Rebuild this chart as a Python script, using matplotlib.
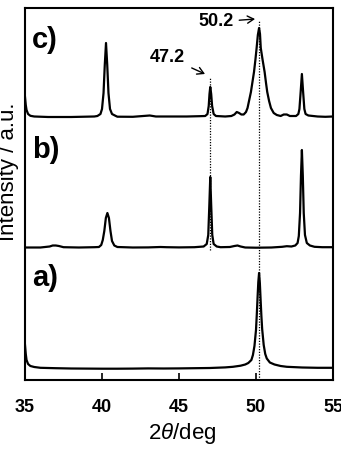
import matplotlib
matplotlib.use("Agg")
import matplotlib.pyplot as plt

plt.rcParams['font.family'] = ['Liberation Sans', 'DejaVu Sans']
plt.rcParams['mathtext.fontset'] = 'custom'
plt.rcParams['mathtext.rm'] = 'Liberation Sans'
plt.rcParams['mathtext.it'] = 'Liberation Sans:italic'

# ---- data (intensities in a.u. above each trace's own baseline)
x_a = [35.0, 35.05, 35.1, 35.2, 35.35, 35.6, 36.0, 37, 38, 39, 40, 41, 42, 43, 44, 45, 46, 47, 47.5,
       48, 48.5, 49.0, 49.3, 49.5, 49.7, 49.8, 49.9, 50.0, 50.05, 50.1, 50.15, 50.2, 50.25, 50.3, 50.35,
       50.4, 50.5, 50.6, 50.7, 50.9, 51.2, 51.6, 52, 53, 54, 55]
y_a = [24, 15, 9, 5, 3, 2, 1.2, 0.8, 0.5, 0.4, 0.3, 0.3, 0.4, 0.6, 0.5, 0.6, 0.8, 1.0, 1.3,
       1.6, 2.2, 3.3, 4.5, 6, 9, 14, 23, 39, 54, 71, 87, 96, 86, 69, 53,
       40, 24, 15, 10.5, 6.5, 4.5, 3, 2.2, 1.5, 1.2, 1.2]

x_b = [35, 36, 36.6, 36.8, 37.0, 37.2, 37.5, 38.5, 39.5, 39.8, 39.95, 40.05, 40.15, 40.25, 40.35,
       40.45, 40.55, 40.65, 40.8, 41.0, 42, 43, 43.8, 44.2, 45, 46, 46.6, 46.8, 46.9, 46.97, 47.03,
       47.09, 47.16, 47.25, 47.45, 47.7, 48.3, 48.6, 48.8, 49.0, 49.3, 50, 51, 51.7, 52.0, 52.3,
       52.55, 52.7, 52.78, 52.86, 52.92, 52.98, 53.04, 53.1, 53.18, 53.3, 53.5, 53.8, 54.3, 55]
y_b = [0.5, 0.5, 1.5, 2.5, 2.5, 2, 0.8, 0.5, 0.8, 1, 3, 8, 17, 30, 35,
       30, 17, 7, 2.5, 1, 0.5, 0.6, 1, 0.8, 0.6, 0.8, 1.5, 4, 13, 43, 71,
       43, 13, 4, 1.5, 0.8, 1, 2, 2.5, 1.5, 0.5, 0.3, 0.5, 1.2, 1.8, 1.5,
       2.5, 5, 12, 35, 72, 98, 72, 35, 13, 5, 2.5, 1.2, 0.8, 0.8]

x_c = [35.0, 35.05, 35.1, 35.2, 35.35, 35.6, 36.5, 38, 39.5, 39.7, 39.9, 40.0, 40.1, 40.18, 40.26,
       40.34, 40.42, 40.52, 40.65, 40.9, 41, 42, 43.1, 43.5, 44.5, 45.5, 46.3, 46.7, 46.85, 46.93,
       46.98, 47.03, 47.09, 47.15, 47.25, 47.4, 48.0, 48.4, 48.6, 48.75, 48.9, 49.05, 49.2, 49.35,
       49.45, 49.67, 49.77, 49.87, 49.96, 50.04, 50.12, 50.2, 50.26, 50.31, 50.43, 50.56, 50.65,
       50.73, 50.85, 50.97, 51.15, 51.35, 51.6, 51.8, 52.0, 52.2, 52.6, 52.75, 52.82, 52.9, 52.98,
       53.06, 53.14, 53.22, 53.4, 54, 54.5, 55]
y_c = [20, 12, 7, 3, 1.2, 0.5, 0, 0, 0.5, 1, 3, 8, 24, 52, 74,
       52, 24, 8, 3, 1, 0.3, 0.2, 1.5, 0.5, 0.5, 0.5, 0.8, 1, 3, 11,
       23, 30, 23, 11, 3, 1, 0.5, 1, 2.5, 5, 4, 2.5, 2.5, 5,
       9, 25, 35, 45, 57, 69, 82, 89, 83, 69, 57, 45, 34,
       25, 16, 9, 4, 2, 1, 2.5, 2.5, 1, 1, 3, 8, 25, 43,
       25, 8, 3, 1.5, 0.5, 0.2, 0.5]

traces = [(x_a, y_a), (x_b, y_b), (x_c, y_c)]
offsets = [11, 132, 263]
panel_labels = ['a)', 'b)', 'c)']
panel_label_y = [94, 222, 332]

ref_lines = [47.03, 50.2]
ref_line_ranges = [(130, 303), (0, 360)]
annotations = ['47.2', '50.2']

xticks = [35, 40, 45, 50, 55]

# ---- figure
fig = plt.figure(figsize=(3.41, 4.55), dpi=100)
ax = fig.add_axes([25 / 341, 75 / 455, 308 / 341, 372 / 455])

for (xs, ys), off in zip(traces, offsets):
    ax.plot(xs, [v + off for v in ys], color='black', lw=1.6, solid_joinstyle='round')

for xv, (y0, y1) in zip(ref_lines, ref_line_ranges):
    ax.plot([xv, xv], [y0, y1], color='black', lw=0.9, ls=(0, (1, 1.2)))

for lab, yv in zip(panel_labels, panel_label_y):
    ax.text(35.45, yv, lab, fontsize=21, fontweight='bold', ha='left', va='baseline')

# annotations with arrows
ax.annotate(annotations[1], xy=(49.94, 361), xytext=(48.55, 358), fontsize=13, fontweight='bold',
            ha='right', va='center',
            arrowprops=dict(arrowstyle='->,head_length=0.35,head_width=0.2', lw=1, color='black',
                            shrinkA=2, shrinkB=0))
ax.annotate(annotations[0], xy=(46.69, 306), xytext=(45.4, 323), fontsize=13, fontweight='bold',
            ha='right', va='center',
            arrowprops=dict(arrowstyle='->,head_length=0.35,head_width=0.2', lw=1, color='black',
                            shrinkA=3, shrinkB=0))

ax.set_xlim(35, 55)
ax.set_ylim(0, 372)
ax.set_xticks(xticks)
ax.set_xticklabels([str(t) for t in xticks], fontsize=13, fontweight='bold')
ax.tick_params(axis='x', direction='in', length=5, width=1.2, pad=14)
ax.set_yticks([])
for s in ax.spines.values():
    s.set_linewidth(1.5)

fig.text(182 / 341, 1 - 434 / 455, r'2$\mathit{\theta}$/deg', fontsize=16, ha='center', va='center')
fig.text(9 / 341, 1 - 172 / 455, 'Intensity / a.u.', fontsize=16, rotation=90, ha='center', va='center')

fig.savefig('out.png', dpi=100)
